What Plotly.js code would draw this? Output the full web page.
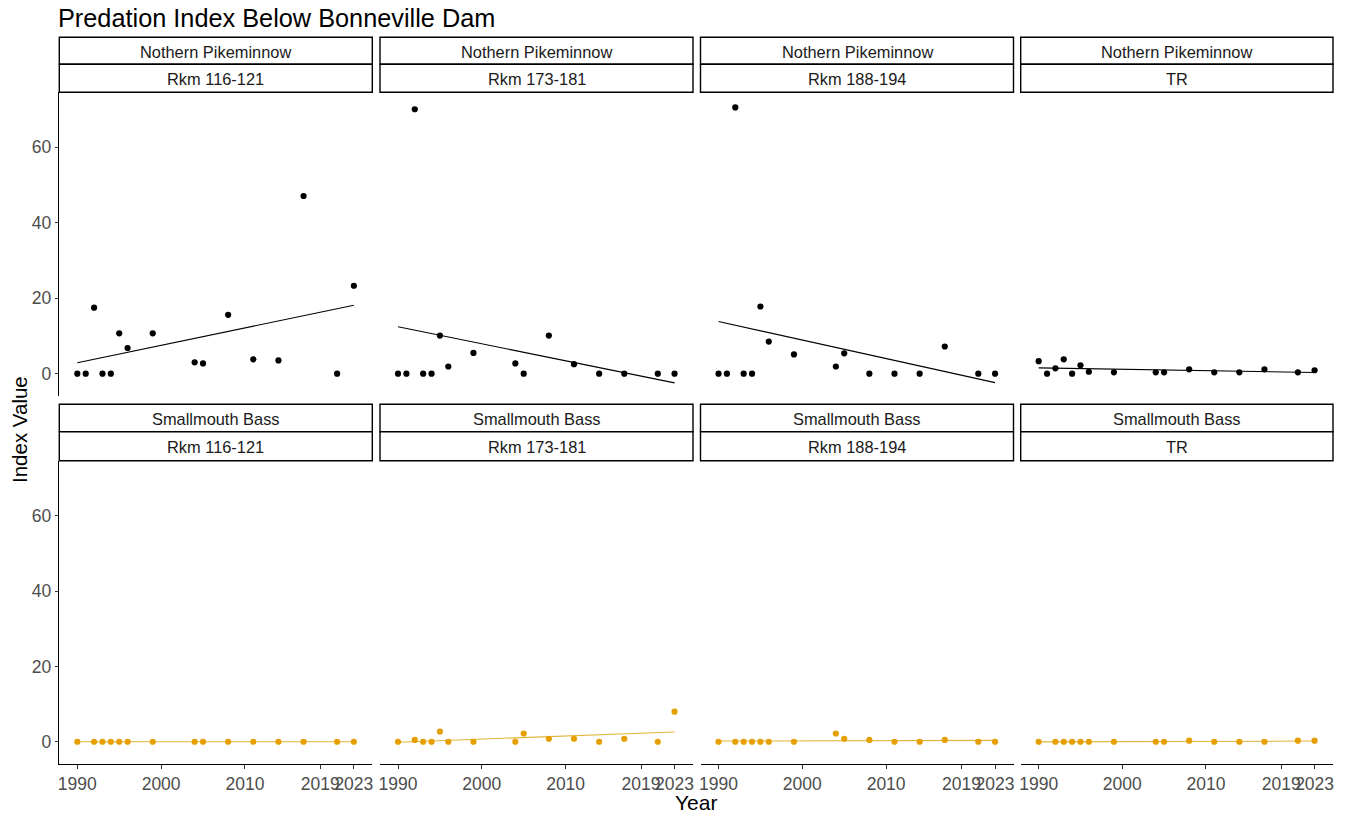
<!DOCTYPE html>
<html>
<head>
<meta charset="utf-8">
<script src="https://cdn.plot.ly/plotly-3.0.1.min.js"></script>
<style>html,body{margin:0;padding:0;background:#fff;}#chart{width:1348px;height:813px;}</style>
</head>
<body>
<div id="chart"></div>
<script>
// ---- data ----
const speciesLabels = ["Nothern Pikeminnow", "Smallmouth Bass"];
const locationLabels = ["Rkm 116-121", "Rkm 173-181", "Rkm 188-194", "TR"];
const xTickVals = [1990, 2000, 2010, 2019, 2023];
const yTickVals = [0, 20, 40, 60];

const yearsNP = [1990,1991,1992,1993,1994,1995,1996,1999,2004,2005,2008,2011,2014,2017,2021,2023];
const np116 = [0,0,17.5,0,0,10.7,6.8,10.7,3.0,2.7,15.6,3.8,3.5,47.1,0,23.3];
const np173 = [0,0,70.1,0,0,10.1,1.9,5.5,2.7,0,10.1,2.5,0,0,0,0];
const np188 = [0,0,70.6,0,0,17.8,8.5,5.1,1.9,5.4,0,0,0,7.2,0,0];
const npTR  = [3.3,0,1.4,3.8,0,2.2,0.5,0.35,0.35,0.35,1.15,0.35,0.35,1.15,0.35,0.9];

const yearsSMB = [1990,1992,1993,1994,1995,1996,1999,2004,2005,2008,2011,2014,2017,2021,2023];
const smb116 = [0,0,0,0,0,0,0,0,0,0,0,0,0,0,0];
const smb173 = [0,0.5,0,0,2.7,0,0,0,2.2,0.8,0.8,0,0.8,0,8.0];
const smb188 = [0,0,0,0,0,0,0,2.2,0.8,0.5,0,0,0.5,0,0];
const smbTR  = [0,0,0,0,0,0,0,0,0,0.3,0,0,0,0.3,0.3];

const seriesNP = [np116, np173, np188, npTR];
const seriesSMB = [smb116, smb173, smb188, smbTR];

// ---- layout helpers ----
const W = 1348, H = 813;
const cols = [[59.3, 372.3], [380, 693], [700.5, 1013.5], [1020.7, 1333]];
const rows = [[92.3, 395.9], [460.7, 764]];
const strips = [[[37.3, 64.3], [64.3, 92.3]], [[404.3, 431.7], [431.7, 460.7]]];
const xr = [1987.85, 2025.2];
const yr = [-5.9, 74.6];
const fontFam = "Liberation Sans, Arial, sans-serif";

function lm(x, y) {
  const n = x.length;
  let sx = 0, sy = 0;
  for (let i = 0; i < n; i++) { sx += x[i]; sy += y[i]; }
  const mx = sx / n, my = sy / n;
  let sxy = 0, sxx = 0;
  for (let i = 0; i < n; i++) { sxy += (x[i]-mx)*(y[i]-my); sxx += (x[i]-mx)*(x[i]-mx); }
  const b = sxy / sxx, a = my - b * mx;
  const x0 = Math.min(...x), x1 = Math.max(...x);
  return { x: [x0, x1], y: [a + b * x0, a + b * x1] };
}

const traces = [];
const layout = {
  width: W, height: H,
  margin: { l: 0, r: 0, t: 0, b: 0 },
  paper_bgcolor: "#fff", plot_bgcolor: "#fff",
  showlegend: false,
  font: { family: fontFam },
  title: {
    text: "Predation Index Below Bonneville Dam",
    x: 58 / W, xanchor: "left", y: 1 - 18.5 / H, yanchor: "middle",
    font: { size: 25.3, color: "#000", family: fontFam }
  },
  shapes: [], annotations: []
};

for (let r = 0; r < 2; r++) {
  const years = r === 0 ? yearsNP : yearsSMB;
  const sers = r === 0 ? seriesNP : seriesSMB;
  const ptColor = r === 0 ? "#000000" : "#E69F00";
  const lnColor = r === 0 ? "#000000" : "#E2B53A";
  for (let c = 0; c < 4; c++) {
    const idx = r * 4 + c + 1;
    const xa = "x" + (idx === 1 ? "" : idx), ya = "y" + (idx === 1 ? "" : idx);
    const fit = lm(years, sers[c]);
    traces.push({ type: "scatter", mode: "lines", x: fit.x, y: fit.y, xaxis: xa, yaxis: ya,
      line: { color: lnColor, width: 1.1 }, hoverinfo: "skip" });
    traces.push({ type: "scatter", mode: "markers", x: years, y: sers[c], xaxis: xa, yaxis: ya,
      marker: { color: ptColor, size: 6.2 } });

    const xKey = "xaxis" + (idx === 1 ? "" : idx), yKey = "yaxis" + (idx === 1 ? "" : idx);
    const bottom = r === 1;
    layout[xKey] = {
      domain: [cols[c][0] / W, cols[c][1] / W], anchor: ya, range: xr,
      showgrid: false, zeroline: false,
      showline: bottom, linecolor: "#000", linewidth: 1.1,
      ticks: bottom ? "outside" : "", ticklen: 3.5, tickcolor: "#333", tickwidth: 1,
      tickmode: "array", tickvals: xTickVals, tickangle: 0,
      showticklabels: bottom,
      tickfont: { size: 17.5, color: "#4D4D4D", family: fontFam },
      fixedrange: true
    };
    const left = c === 0;
    layout[yKey] = {
      domain: [1 - rows[r][1] / H, 1 - rows[r][0] / H], anchor: xa, range: yr,
      showgrid: false, zeroline: false,
      showline: left, linecolor: "#000", linewidth: 1.1,
      ticks: left ? "outside" : "", ticklen: 3.5, tickcolor: "#333", tickwidth: 1,
      tickmode: "array", tickvals: yTickVals,
      showticklabels: left,
      tickfont: { size: 17.5, color: "#4D4D4D", family: fontFam },
      fixedrange: true
    };

    // strips
    const labels = [speciesLabels[r], locationLabels[c]];
    for (let s = 0; s < 2; s++) {
      const y0 = strips[r][s][0], y1 = strips[r][s][1];
      layout.shapes.push({ type: "rect", xref: "paper", yref: "paper",
        x0: cols[c][0] / W, x1: cols[c][1] / W, y0: 1 - y1 / H, y1: 1 - y0 / H,
        line: { color: "#000", width: 1.4 }, fillcolor: "#fff", layer: "above" });
      layout.annotations.push({ xref: "paper", yref: "paper", showarrow: false,
        x: (cols[c][0] + cols[c][1]) / 2 / W, y: 1 - ((y0 + y1) / 2 + 0.8) / H,
        xanchor: "center", yanchor: "middle", text: labels[s],
        font: { size: 16.4, color: "#1A1A1A", family: fontFam } });
    }
  }
}

layout.annotations.push({ xref: "paper", yref: "paper", showarrow: false,
  x: 696 / W, y: 1 - 802.5 / H, xanchor: "center", yanchor: "middle", text: "Year",
  font: { size: 21, color: "#000", family: fontFam } });
layout.annotations.push({ xref: "paper", yref: "paper", showarrow: false,
  x: 19 / W, y: 1 - 430 / H, xanchor: "center", yanchor: "middle", text: "Index Value",
  textangle: -90, font: { size: 20.5, color: "#000", family: fontFam } });

Plotly.newPlot("chart", traces, layout, { displayModeBar: false, staticPlot: true });
</script>
</body>
</html>
